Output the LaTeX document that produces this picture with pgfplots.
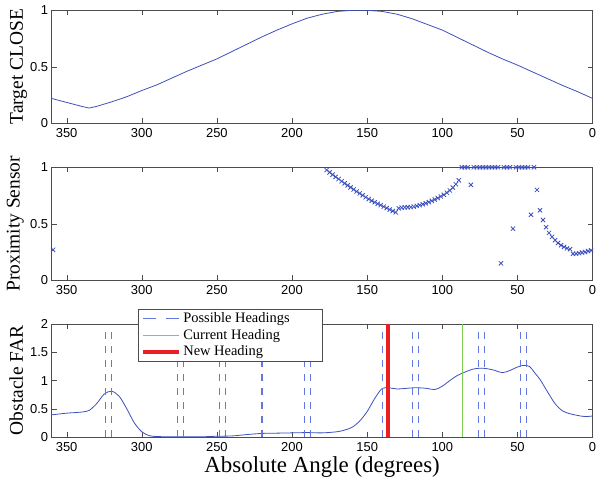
\documentclass[border=0pt]{standalone}
\usepackage{fontspec}
\setmainfont{Liberation Serif}
\setsansfont{Liberation Sans}
\usepackage{pgfplots}
\pgfplotsset{compat=1.18}

\definecolor{mblue}{RGB}{60,80,190}
\definecolor{dblue}{RGB}{100,120,220}
\definecolor{hred}{RGB}{235,30,35}
\definecolor{hgreen}{RGB}{125,205,80}

\pgfplotsset{
  panel/.style={
    scale only axis, width=541bp, height=113bp,
    x dir=reverse, xmin=0, xmax=360, ymin=0,
    xtick={0,50,...,350},
    tick align=inside, tick pos=both,
    major tick length=5bp,
    axis line style={black!70}, tick style={black!70},
    every tick label/.append style={font=\fontsize{13}{15}\sffamily},
    xticklabel style={yshift=-2bp},
    /pgf/number format/assume math mode=true,
    ylabel style={font=\fontsize{19.5}{21}\selectfont, anchor=base},
  },
  vline/.style={dblue, line width=1.1bp, dash pattern=on 7bp off 7bp, forget plot},
}

\begin{document}
\begin{tikzpicture}
% top: target
\begin{axis}[panel, at={(0,0)}, anchor=north west, ymax=1, ytick={0,0.5,1},
  ylabel={Target CLOSE}, ylabel style={at={(axis description cs:-0.053,0.5)}}]
\addplot[mblue, line width=0.8bp] coordinates {
  (360,0.22)(350,0.185)(340,0.15)(335,0.135)(330,0.15)(320,0.19)(310,0.235)
  (300,0.29)(290,0.34)(280,0.40)(270,0.46)(260,0.515)(250,0.57)(240,0.635)
  (230,0.70)(220,0.765)(210,0.825)(200,0.88)(190,0.93)(180,0.965)(170,0.99)
  (160,1.0)(155,1.0)(150,1.0)(140,0.99)(130,0.965)(120,0.925)(110,0.875)
  (100,0.825)(90,0.76)(80,0.695)(70,0.63)(60,0.57)(50,0.515)(40,0.455)
  (30,0.395)(20,0.335)(10,0.28)(0,0.22)};
\end{axis}

% middle: proximity sensor
\begin{axis}[panel, at={(0,-157bp)}, anchor=north west, ymax=1, ytick={0,0.5,1},
  clip=false,
  ylabel={Proximity Sensor}, ylabel style={at={(axis description cs:-0.059,0.5)}}]
\addplot[only marks, mark=x, mark size=3bp, mblue, mark options={line width=0.8bp}] coordinates {
  (359,0.27)
  (177,0.976)(175,0.955)(173,0.935)(171,0.915)(169,0.896)(167,0.877)(165,0.858)
  (163,0.840)(161,0.822)(159,0.804)(157,0.786)(155,0.769)(153,0.752)(151,0.735)
  (149,0.719)(147,0.704)(145,0.690)(143,0.677)(141,0.665)(139,0.652)(137,0.639)
  (135,0.626)(133,0.613)(131,0.601)
  (129,0.637)(127,0.643)(125,0.645)(123,0.646)(121,0.648)(119,0.652)(117,0.658)
  (115,0.665)(113,0.673)(111,0.682)(109,0.692)(107,0.703)(105,0.715)(103,0.728)
  (101,0.742)(99,0.757)(97,0.775)(95,0.795)(93,0.82)(91,0.85)(89,0.885)
  (87,1)(85,1)(83,1)(81,0.845)(79,1)(77,1)(75,1)(73,1)(71,1)(69,1)(67,1)(65,1)
  (63,1)(61,0.15)(59,1)(57,1)(55,1)(53,0.457)(51,1)(49,1)(47,1)(45,1)(43,1)
  (41,0.58)(39,1)(37,0.80)(35,0.62)(33,0.534)(31,0.47)(29,0.42)(27,0.385)
  (25,0.355)(23,0.33)(21,0.31)(19,0.295)(17,0.283)(15,0.275)(13,0.235)
  (11,0.235)(9,0.24)(7,0.245)(5,0.25)(3,0.258)(1,0.265)};
\end{axis}

% bottom: obstacle
\begin{axis}[panel, at={(0,-314bp)}, anchor=north west, height=112.5bp,
  ymax=2, ytick={0,0.5,1,1.5,2},
  ylabel={Obstacle FAR}, ylabel style={at={(axis description cs:-0.053,0.5)}},
  xlabel={Absolute Angle (degrees)},
  xlabel style={font=\fontsize{23}{25}\selectfont, at={(axis description cs:0.5,0)}, anchor=base, yshift=-36bp},
  legend image code/.code={\draw[#1] (0bp,0bp) -- (36bp,0bp);},
  legend cell align=left,
  legend style={at={(0.16,1.134)}, anchor=north west, draw=black!70,
    font=\fontsize{14.5}{16}\selectfont, row sep=1bp, inner ysep=1.5bp}]
\addlegendimage{dblue, line width=1.1bp, dash pattern=on 13bp off 10bp}
\addlegendentry{\makebox[134bp][l]{Possible Headings}}
\addlegendimage{hgreen, line width=1bp}
\addlegendentry{Current Heading}
\addlegendimage{hred, line width=4bp}
\addlegendentry{New Heading}

\addplot[mblue, line width=0.8bp, smooth, forget plot] coordinates {
  (360,0.39)(350,0.42)(340,0.44)(335,0.47)(330,0.59)(325,0.76)(320,0.81)
  (315,0.72)(310,0.50)(305,0.25)(300,0.09)(295,0.02)(290,0.005)(280,0)
  (270,0)(260,0)(250,0.01)(240,0.015)(230,0.04)(220,0.06)(210,0.065)
  (200,0.07)(190,0.075)(180,0.07)(170,0.09)(165,0.12)(160,0.17)(155,0.28)
  (150,0.45)(145,0.68)(140,0.86)(135,0.87)(130,0.85)(120,0.87)(115,0.87)
  (110,0.86)(105,0.84)(100,0.90)(95,1.0)(90,1.09)(85,1.15)(80,1.2)(75,1.22)
  (70,1.21)(65,1.18)(60,1.14)(55,1.18)(50,1.24)(46,1.27)(42,1.25)(38,1.12)
  (35,1.02)(30,0.80)(25,0.59)(20,0.46)(15,0.41)(10,0.38)(5,0.36)(0,0.37)};

\addplot[vline] coordinates {(324,0)(324,1.93)};
\addplot[vline] coordinates {(320,0)(320,1.93)};
\addplot[vline] coordinates {(276,0)(276,1.93)};
\addplot[vline] coordinates {(272,0)(272,1.93)};
\addplot[vline] coordinates {(248,0)(248,1.93)};
\addplot[vline] coordinates {(244,0)(244,1.93)};
\addplot[vline] coordinates {(220,0)(220,1.93)};
\addplot[vline] coordinates {(192,0)(192,1.93)};
\addplot[vline] coordinates {(188,0)(188,1.93)};
\addplot[vline] coordinates {(140,0)(140,1.93)};
\addplot[vline] coordinates {(120,0)(120,1.93)};
\addplot[vline] coordinates {(116,0)(116,1.93)};
\addplot[vline] coordinates {(76,0)(76,1.93)};
\addplot[vline] coordinates {(72,0)(72,1.93)};
\addplot[vline] coordinates {(48,0)(48,1.93)};
\addplot[vline] coordinates {(44,0)(44,1.93)};

\addplot[hgreen, line width=1bp, forget plot] coordinates {(86.6,0)(86.6,2)};
\addplot[hred, line width=4bp, forget plot] coordinates {(136,0)(136,2)};
\end{axis}

\pgfresetboundingbox
\path[use as bounding box] (-51.6bp,10.3bp) rectangle (545.4bp,-468.7bp);
\end{tikzpicture}
\end{document}
